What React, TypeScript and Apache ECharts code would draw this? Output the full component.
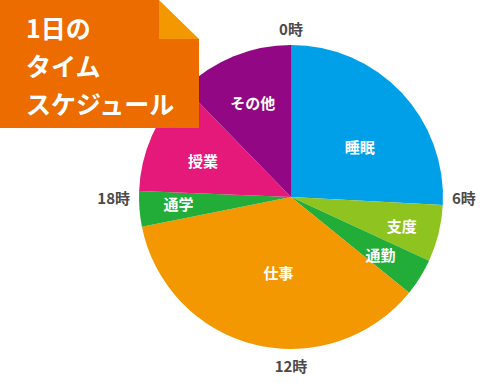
import React, { useEffect, useRef } from "react";
import * as echarts from "echarts";

const categories = ["睡眠", "支度", "通勤", "仕事", "通学", "授業", "その他"];
const hours = [6.2, 1.45, 0.95, 8.65, 0.9, 2.9, 2.95];
const colors = ["#00a0e9", "#8fc31f", "#22ac38", "#f39800", "#22ac38", "#e4197a", "#920783"];
const hourTicks = [0, 6, 12, 18];
const titleLines = ["1日の", "タイム", "スケジュール"];
// small label nudges (style only)
const labelNudge = [[-5, 20], [12, 4], [3, 4], [12, -23], [-11, -1], [5, 5], [0, 0]];

const FONT = "'Noto Sans CJK JP', 'Noto Sans', sans-serif";

export default function App() {
  const ref = useRef<HTMLDivElement>(null);
  useEffect(() => {
    document.body.style.margin = "0";
    const chart = echarts.init(ref.current!, undefined, { renderer: "svg" });
    const center = [291, 197];
    const R = 152;
    const data = categories.map((name, i) => ({
      name,
      value: hours[i],
      itemStyle: { color: colors[i] },
    }));
    chart.setOption({
      animation: false,
      textStyle: { fontFamily: FONT },
      polar: { center, radius: R },
      angleAxis: {
        type: "value",
        min: 0,
        max: 24,
        interval: 6,
        startAngle: 90,
        clockwise: true,
        axisLine: { show: false },
        axisTick: { show: false },
        splitLine: { show: false },
        axisLabel: {
          margin: 9,
          color: "#4a4a4a",
          fontSize: 15,
          fontWeight: "bold",
          fontFamily: FONT,
          formatter: (v: number) => (hourTicks.includes(v) ? v + "時" : ""),
        },
      },
      radiusAxis: { show: false },
      series: [
        {
          type: "pie",
          center,
          radius: [0, R],
          startAngle: 90,
          clockwise: true,
          data,
          label: { show: false },
          labelLine: { show: false },
          silent: true,
        },
        {
          type: "pie",
          center,
          radius: [R * 0.3, R],
          startAngle: 90,
          clockwise: true,
          data: data.map((d) => ({ ...d, itemStyle: { color: "rgba(0,0,0,0)" } })),
          label: {
            show: true,
            position: "inside",
            color: "#fff",
            fontSize: 15,
            fontWeight: "bold",
            fontFamily: FONT,
          },
          labelLayout: (p: any) => ({ dx: labelNudge[p.dataIndex][0], dy: labelNudge[p.dataIndex][1] }),
          labelLine: { show: false },
          silent: true,
        },
      ],
      graphic: [
        {
          type: "polygon",
          z: 100,
          zlevel: 0,
          shape: { points: [[0, 0], [159, 0], [159, 39], [199, 39], [199, 128], [0, 128]] },
          style: { fill: "#ec6c00" },
        },
        {
          type: "polygon",
          z: 101,
          shape: { points: [[159, 0], [199, 39], [159, 39]] },
          style: { fill: "#f39800" },
        },
        ...titleLines.map((t, i) => ({
          type: "text",
          z: 102,
          x: 26,
          y: 14 + i * 38,
          style: {
            text: t,
            fill: "#fff",
            fontSize: 25,
            fontWeight: "bold",
            fontFamily: FONT,
          },
        })),
      ],
    });
    return () => chart.dispose();
  }, []);
  return <div ref={ref} style={{ width: 487, height: 383 }} />;
}
